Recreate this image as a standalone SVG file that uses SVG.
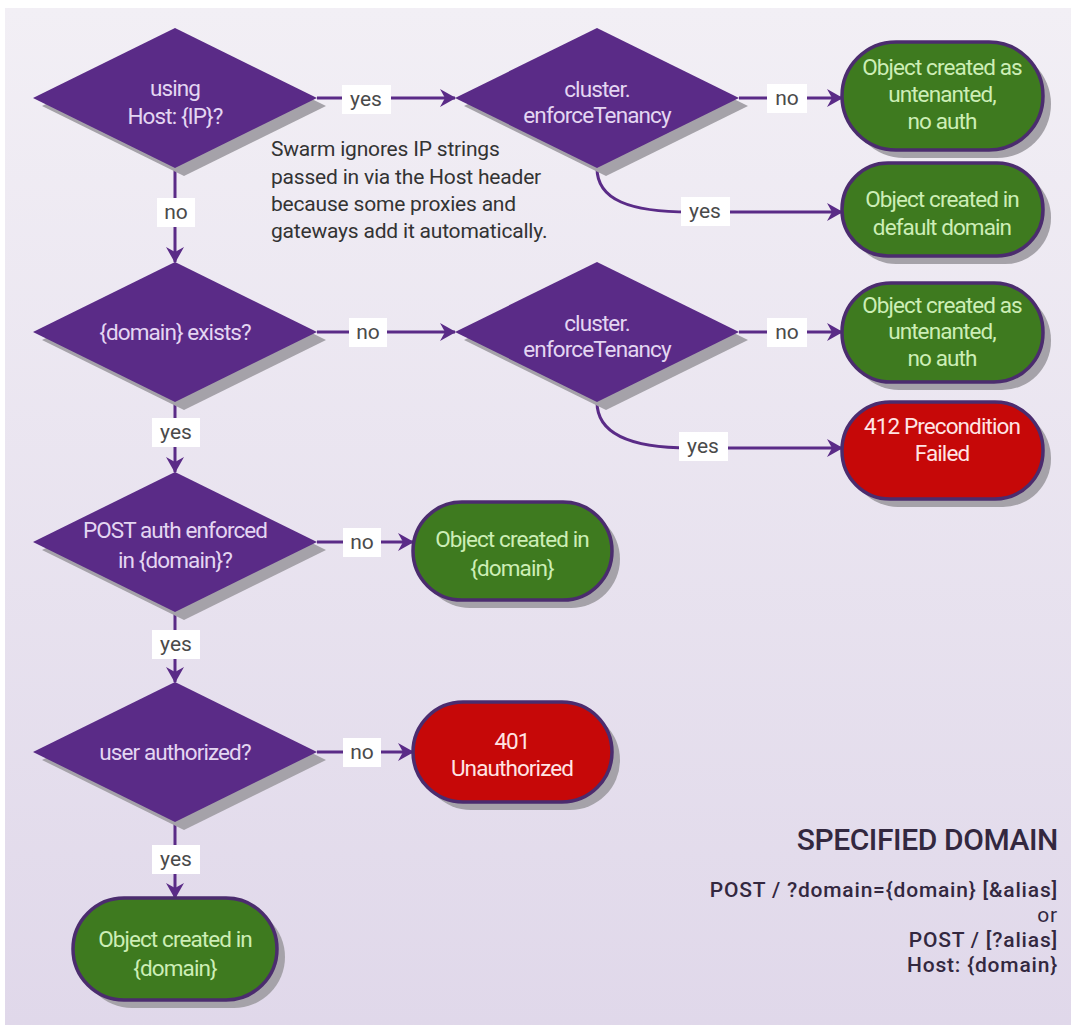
<svg xmlns="http://www.w3.org/2000/svg" width="1071" height="1025" viewBox="0 0 1071 1025">
  <defs>
    <linearGradient id="bg" x1="0" y1="0" x2="0" y2="1">
      <stop offset="0" stop-color="#f2eff5"/>
      <stop offset="1" stop-color="#e0d8ea"/>
    </linearGradient>
    <marker id="arrow" viewBox="0 0 16 18" refX="15" refY="9" markerWidth="16" markerHeight="18" markerUnits="userSpaceOnUse" orient="auto">
      <path d="M0,0 L16,9 L0,18 L5,9 z" fill="#5a2b87"/>
    </marker>
  </defs>
  <style>
    .diamond { fill: #5a2b87; }
    .shadow { fill: #a5a2a9; }
    .dtext { font-family: Roboto, "Liberation Sans", sans-serif; font-size: 22.5px; fill: #e4d6f2; text-anchor: middle; letter-spacing: -0.9px; }
    .green { fill: #3e7a1f; stroke: #4b2c6e; stroke-width: 3.5; }
    .red { fill: #c60808; stroke: #4b2c6e; stroke-width: 3.5; }
    .gtext { font-family: Roboto, "Liberation Sans", sans-serif; font-size: 22.5px; fill: #cdeeb6; text-anchor: middle; letter-spacing: -0.9px; }
    .rtext { font-family: Roboto, "Liberation Sans", sans-serif; font-size: 22.5px; fill: #ffe4e4; text-anchor: middle; letter-spacing: -0.9px; }
    .edge { fill: none; stroke: #5a2b87; stroke-width: 3; marker-end: url(#arrow); }
    .lbox { fill: #ffffff; }
    .ltext { font-family: Roboto, "Liberation Sans", sans-serif; font-size: 21px; fill: #4a4a4a; text-anchor: middle; }
    .note { font-family: Roboto, "Liberation Sans", sans-serif; font-size: 21px; fill: #333333; letter-spacing: -0.2px; }
    .title { font-family: Roboto, "Liberation Sans", sans-serif; font-size: 30px; font-weight: 500; fill: #33283f; text-anchor: end; letter-spacing: -0.4px; }
    .sub { font-family: Roboto, "Liberation Sans", sans-serif; font-size: 21px; font-weight: 500; fill: #33283f; text-anchor: end; letter-spacing: 0.8px; }
    .or { font-weight: 400; }
  </style>

  <!-- page background -->
  <rect x="0" y="0" width="1071" height="1025" fill="#ffffff"/>
  <rect x="5" y="8" width="1066" height="1017" fill="url(#bg)"/>

  <!-- connectors -->
  <g id="connectors">
    <line class="edge" x1="317" y1="98" x2="455" y2="98"/>
    <line class="edge" x1="739" y1="98" x2="842" y2="98"/>
    <path class="edge" d="M597,168 C597,200 630,212 690,212 L842,212"/>
    <line class="edge" x1="175" y1="168" x2="175" y2="262"/>
    <line class="edge" x1="317" y1="332" x2="455" y2="332"/>
    <line class="edge" x1="739" y1="332" x2="842" y2="332"/>
    <path class="edge" d="M597,402 C597,434 630,448 690,448 L842,448"/>
    <line class="edge" x1="175" y1="402" x2="175" y2="472"/>
    <line class="edge" x1="317" y1="542" x2="413" y2="542"/>
    <line class="edge" x1="175" y1="612" x2="175" y2="682"/>
    <line class="edge" x1="317" y1="752" x2="413" y2="752"/>
    <line class="edge" x1="175" y1="822" x2="175" y2="898"/>

    <!-- edge labels -->
    <rect class="lbox" x="342" y="85" width="49" height="29"/>
    <text class="ltext" x="366" y="106">yes</text>
    <rect class="lbox" x="767" y="84" width="40" height="29"/>
    <text class="ltext" x="787" y="105">no</text>
    <rect class="lbox" x="681" y="197" width="49" height="29"/>
    <text class="ltext" x="705" y="218">yes</text>
    <rect class="lbox" x="157" y="198" width="38" height="29"/>
    <text class="ltext" x="176" y="219">no</text>
    <rect class="lbox" x="349" y="318" width="38" height="29"/>
    <text class="ltext" x="368" y="339">no</text>
    <rect class="lbox" x="767" y="318" width="40" height="29"/>
    <text class="ltext" x="787" y="339">no</text>
    <rect class="lbox" x="679" y="432" width="49" height="29"/>
    <text class="ltext" x="703" y="453">yes</text>
    <rect class="lbox" x="152" y="418" width="48" height="29"/>
    <text class="ltext" x="176" y="439">yes</text>
    <rect class="lbox" x="343" y="528" width="38" height="29"/>
    <text class="ltext" x="362" y="549">no</text>
    <rect class="lbox" x="152" y="630" width="48" height="29"/>
    <text class="ltext" x="176" y="651">yes</text>
    <rect class="lbox" x="343" y="738" width="38" height="29"/>
    <text class="ltext" x="362" y="759">no</text>
    <rect class="lbox" x="152" y="845" width="48" height="29"/>
    <text class="ltext" x="176" y="866">yes</text>
  </g>

  <!-- decisions -->
  <g id="d-host-ip">
    <polygon class="shadow" points="42,106 184,36 326,106 184,176"/>
    <polygon class="diamond" points="33,98 175,28 317,98 175,168"/>
    <text class="dtext" x="175" y="96">using</text>
    <text class="dtext" x="175" y="124">Host: {IP}?</text>
  </g>
  <g id="d-enforce-1">
    <polygon class="shadow" points="464,106 606,36 748,106 606,176"/>
    <polygon class="diamond" points="455,98 597,28 739,98 597,168"/>
    <text class="dtext" x="597" y="97">cluster.</text>
    <text class="dtext" x="597" y="123">enforceTenancy</text>
  </g>
  <g id="d-domain-exists">
    <polygon class="shadow" points="42,340 184,270 326,340 184,410"/>
    <polygon class="diamond" points="33,332 175,262 317,332 175,402"/>
    <text class="dtext" x="175" y="340">{domain} exists?</text>
  </g>
  <g id="d-enforce-2">
    <polygon class="shadow" points="464,340 606,270 748,340 606,410"/>
    <polygon class="diamond" points="455,332 597,262 739,332 597,402"/>
    <text class="dtext" x="597" y="331">cluster.</text>
    <text class="dtext" x="597" y="357">enforceTenancy</text>
  </g>
  <g id="d-post-auth">
    <polygon class="shadow" points="42,550 184,480 326,550 184,620"/>
    <polygon class="diamond" points="33,542 175,472 317,542 175,612"/>
    <text class="dtext" x="175" y="538">POST auth enforced</text>
    <text class="dtext" x="175" y="568">in {domain}?</text>
  </g>
  <g id="d-user-auth">
    <polygon class="shadow" points="42,760 184,690 326,760 184,830"/>
    <polygon class="diamond" points="33,752 175,682 317,752 175,822"/>
    <text class="dtext" x="175" y="760">user authorized?</text>
  </g>

  <!-- outcomes -->
  <g id="n-untenanted-1">
    <rect class="shadow" x="850" y="50" width="201" height="108" rx="54"/>
    <rect class="green" x="842" y="42" width="201" height="108" rx="54"/>
    <text class="gtext" x="942" y="75">Object created as</text>
    <text class="gtext" x="942" y="102">untenanted,</text>
    <text class="gtext" x="942" y="129">no auth</text>
  </g>
  <g id="n-default-domain">
    <rect class="shadow" x="850" y="171" width="201" height="93" rx="46"/>
    <rect class="green" x="842" y="163" width="201" height="93" rx="46"/>
    <text class="gtext" x="942" y="207">Object created in</text>
    <text class="gtext" x="942" y="235">default domain</text>
  </g>
  <g id="n-untenanted-2">
    <rect class="shadow" x="850" y="291" width="201" height="99" rx="49"/>
    <rect class="green" x="842" y="283" width="201" height="99" rx="49"/>
    <text class="gtext" x="942" y="313">Object created as</text>
    <text class="gtext" x="942" y="339">untenanted,</text>
    <text class="gtext" x="942" y="366">no auth</text>
  </g>
  <g id="n-412">
    <rect class="shadow" x="850" y="410" width="201" height="97" rx="48"/>
    <rect class="red" x="842" y="402" width="201" height="97" rx="48"/>
    <text class="rtext" x="942" y="434">412 Precondition</text>
    <text class="rtext" x="942" y="461">Failed</text>
  </g>
  <g id="n-created-domain-1">
    <rect class="shadow" x="421" y="510" width="199" height="98" rx="49"/>
    <rect class="green" x="413" y="502" width="199" height="98" rx="49"/>
    <text class="gtext" x="512" y="547">Object created in</text>
    <text class="gtext" x="512" y="576">{domain}</text>
  </g>
  <g id="n-401">
    <rect class="shadow" x="421" y="710" width="199" height="100" rx="50"/>
    <rect class="red" x="413" y="702" width="199" height="100" rx="50"/>
    <text class="rtext" x="512" y="749">401</text>
    <text class="rtext" x="512" y="776">Unauthorized</text>
  </g>
  <g id="n-created-domain-2">
    <rect class="shadow" x="81" y="906" width="204" height="102" rx="51"/>
    <rect class="green" x="73" y="898" width="204" height="102" rx="51"/>
    <text class="gtext" x="175" y="947">Object created in</text>
    <text class="gtext" x="175" y="976">{domain}</text>
  </g>

  <!-- note beside the first decision -->
  <g id="note-ip">
    <text class="note" x="271" y="156">Swarm ignores IP strings</text>
    <text class="note" x="271" y="184">passed in via the Host header</text>
    <text class="note" x="271" y="211">because some proxies and</text>
    <text class="note" x="271" y="238">gateways add it automatically.</text>
  </g>

  <!-- legend -->
  <g id="legend">
    <text class="title" x="1058" y="850">SPECIFIED DOMAIN</text>
    <text class="sub" x="1058" y="897">POST / ?domain={domain} [&amp;alias]</text>
    <text class="sub or" x="1058" y="922">or</text>
    <text class="sub" x="1058" y="947">POST / [?alias]</text>
    <text class="sub" x="1058" y="972">Host: {domain}</text>
  </g>
</svg>
